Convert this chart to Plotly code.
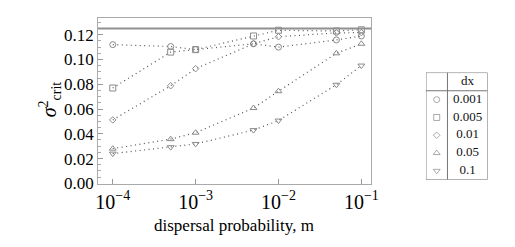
import plotly.graph_objects as go

# ---- data ----
m_values = [1e-4, 5e-4, 1e-3, 5e-3, 1e-2, 5e-2, 1e-1]
dx_labels = ["0.001", "0.005", "0.01", "0.05", "0.1"]
sig_dx_0001 = [0.112, 0.1105, 0.108, 0.1127, 0.110, 0.1158, 0.119]
sig_dx_0005 = [0.077, 0.106, 0.108, 0.119, 0.1236, 0.123, 0.124]
sig_dx_001 = [0.0512, 0.0788, 0.0926, 0.1127, 0.1184, 0.1215, 0.1217]
sig_dx_005 = [0.028, 0.0357, 0.0409, 0.0608, 0.0744, 0.105, 0.1127]
sig_dx_01 = [0.024, 0.0292, 0.0318, 0.043, 0.0507, 0.0796, 0.0951]
upper_bound = 0.125
x_tickvals = [1e-4, 1e-3, 1e-2, 1e-1]
x_ticktext = ["10<sup>\u22124</sup>", "10<sup>\u22123</sup>", "10<sup>\u22122</sup>", "10<sup>\u22121</sup>"]
y_tickvals = [0.0, 0.02, 0.04, 0.06, 0.08, 0.10, 0.12]

series = [sig_dx_0001, sig_dx_0005, sig_dx_001, sig_dx_005, sig_dx_01]
symbols = ["circle-open", "square-open", "diamond-open", "triangle-up-open", "triangle-down-open"]
plot_sizes = [6, 6, 5, 6, 6]

W, H = 515, 247
SERIF = "Liberation Serif"
GRAY = "#8a8a8a"

fig = go.Figure()
for ys, sym, lab, sz in zip(series, symbols, dx_labels, plot_sizes):
    fig.add_trace(go.Scatter(
        x=m_values, y=ys, mode="lines+markers", name=lab,
        line=dict(color="#555555", width=1.2, dash="1px,3.5px"),
        marker=dict(symbol=sym, size=sz, color=GRAY, line=dict(color=GRAY, width=1)),
        xaxis="x", yaxis="y", showlegend=False,
    ))

# legend table drawn in a second, hidden axis
row_h = 18.6
header_h = 19
row_centers = [header_h + row_h * (i + 0.5) for i in range(len(dx_labels))]
leg_sizes = [6, 6, 5, 6, 6]
fig.add_trace(go.Scatter(
    x=[11] * len(dx_labels), y=row_centers, mode="markers",
    marker=dict(symbol=symbols, size=leg_sizes, color="#888888", line=dict(color="#888888", width=1)),
    xaxis="x2", yaxis="y2", showlegend=False, hoverinfo="skip",
))
fig.add_trace(go.Scatter(
    x=[42.5] * (len(dx_labels) + 1), y=[header_h / 2] + row_centers, mode="text",
    text=["dx"] + dx_labels, textfont=dict(family=SERIF, size=13, color="#111111"),
    xaxis="x2", yaxis="y2", showlegend=False, hoverinfo="skip",
))

shapes = [
    dict(type="line", xref="x domain", yref="y", x0=0, x1=1, y0=upper_bound, y1=upper_bound,
         line=dict(color="#909090", width=2)),
    dict(type="rect", xref="x2", yref="y2", x0=0, x1=63, y0=0, y1=112, line=dict(color="#777777", width=1)),
    dict(type="line", xref="x2", yref="y2", x0=22, x1=22, y0=0, y1=112, line=dict(color="#777777", width=1)),
    dict(type="line", xref="x2", yref="y2", x0=0, x1=63, y0=header_h, y1=header_h, line=dict(color="#777777", width=1)),
]

annotations = [
    dict(text="<i>\u03c3</i><sup>2</sup><sub>crit</sub>", x=40 / W, y=(H - 95) / H, xref="paper", yref="paper",
         xanchor="center", yanchor="middle",
         textangle=-90, showarrow=False, font=dict(family=SERIF, size=20, color="black")),
    dict(text="dispersal probability, m", x=227.5 / W, y=(H - 227) / H, xref="paper", yref="paper",
         xanchor="center", yanchor="middle",
         showarrow=False, font=dict(family=SERIF, size=17, color="black")),
]

fig.update_layout(
    width=W, height=H, margin=dict(l=0, r=0, t=0, b=0),
    paper_bgcolor="white", plot_bgcolor="white",
    shapes=shapes, annotations=annotations,
    xaxis=dict(type="log", range=[-4.177, -0.882], domain=[89 / W, 368 / W],
               tickvals=x_tickvals, ticktext=x_ticktext, ticks="inside", ticklen=5,
               tickcolor="#999999", showline=True, linecolor="#aaaaaa", linewidth=1, mirror=True,
               showgrid=False, zeroline=False, anchor="y", ticklabelstandoff=0,
               tickfont=dict(family=SERIF, size=20, color="black")),
    yaxis=dict(range=[-0.0002, 0.1333], domain=[(H - 183) / H, (H - 10.7) / H],
               tickvals=y_tickvals, tickformat=".2f", ticks="inside", ticklen=5,
               tickcolor="#999999", showline=True, linecolor="#aaaaaa", linewidth=1, mirror=True,
               showgrid=False, zeroline=False, anchor="x",
               minor=dict(dtick=0.005, ticks="inside", ticklen=3, tickcolor="#aaaaaa", showgrid=False),
               tickfont=dict(family=SERIF, size=17, color="black")),
    xaxis2=dict(range=[0, 63], domain=[424 / W, 487 / W], visible=False, anchor="y2", fixedrange=True),
    yaxis2=dict(range=[112, 0], domain=[(H - 179) / H, (H - 67.3) / H], visible=False, anchor="x2", fixedrange=True),
)

fig.write_html("out.html")
